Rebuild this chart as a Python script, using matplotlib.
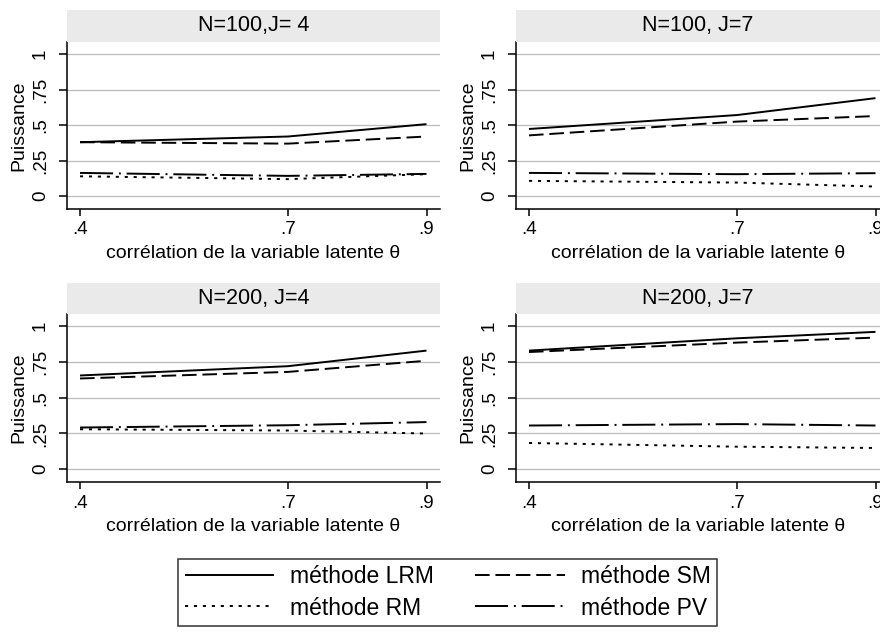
import matplotlib
matplotlib.use("Agg")
import matplotlib.pyplot as plt
from matplotlib.lines import Line2D

plt.rcParams['font.family'] = ['Liberation Sans', 'DejaVu Sans']

corr = [0.4, 0.7, 0.9]
xticklabels = ['.4', '.7', '.9']
yticks = [0, 0.25, 0.5, 0.75, 1]
yticklabels = ['0', '.25', '.5', '.75', '1']

titles = ['N=100,J= 4', 'N=100, J=7', 'N=200, J=4', 'N=200, J=7']

lrm = [[0.38, 0.42, 0.507], [0.473, 0.571, 0.69], [0.655, 0.72, 0.829], [0.829, 0.915, 0.96]]
sm = [[0.38, 0.37, 0.42], [0.428, 0.525, 0.564], [0.634, 0.68, 0.758], [0.819, 0.885, 0.92]]
rm = [[0.14, 0.12, 0.155], [0.108, 0.096, 0.068], [0.279, 0.27, 0.249], [0.183, 0.157, 0.148]]
pv = [[0.164, 0.143, 0.157], [0.164, 0.155, 0.162], [0.291, 0.307, 0.329], [0.305, 0.315, 0.305]]

series = [
    ('méthode LRM', lrm, (0, ())),
    ('méthode SM', sm, (0, (7.5, 3))),
    ('méthode RM', rm, (0, (1.6, 3.0))),
    ('méthode PV', pv, (0, (17, 3, 1, 3))),
]

W, H = 880, 632
fig = plt.figure(figsize=(W / 100, H / 100), dpi=100)

# pixel boxes: left, right, top, bottom of plot region, strip top
boxes = [(67, 440, 42, 209, 10), (516, 880, 42, 209, 10),
         (67, 440, 314, 482, 283), (516, 880, 314, 482, 283)]
px_per_unit = 693.0  # horizontal pixels per unit of correlation

for i, (l, r, t, b, st) in enumerate(boxes):
    ax = fig.add_axes([l / W, 1 - b / H, (r - l) / W, (b - t) / H])
    for name, vals, ls in series:
        ax.plot(corr, vals[i], color='black', lw=1.4, linestyle=ls)
    x0 = 0.4 - 13 / px_per_unit
    ax.set_xlim(x0, x0 + (r - l) / px_per_unit)
    ax.set_ylim(-0.09, 1.085)
    ax.set_xticks(corr)
    ax.set_xticklabels(xticklabels, fontsize=13.5)
    ax.set_yticks(yticks)
    ax.set_yticklabels(yticklabels, fontsize=13.5, rotation=90, va='center')
    ax.yaxis.grid(True, color='#bcbcbc', lw=0.9)
    ax.set_axisbelow(True)
    ax.spines['top'].set_visible(False)
    ax.spines['right'].set_visible(False)
    ax.spines['left'].set_linewidth(1.1)
    ax.spines['bottom'].set_linewidth(1.1)
    ax.tick_params(axis='x', length=5, width=1.1, pad=4)
    ax.tick_params(axis='y', length=6, width=1.1, pad=7)
    ax.set_xlabel('corrélation de la variable latente θ', fontsize=14, labelpad=5)
    ax.set_ylabel('Puissance', fontsize=14, labelpad=3)
    # strip title
    sax = fig.add_axes([l / W, 1 - t / H, (r - l) / W, (t - st) / H])
    sax.set_facecolor('#eaeaea')
    sax.set_xticks([])
    sax.set_yticks([])
    for s in sax.spines.values():
        s.set_visible(False)
    sax.text(0.5, 0.5, titles[i], ha='center', va='center', fontsize=15.5,
             transform=sax.transAxes)

handles = [Line2D([], [], color='black', lw=1.4, linestyle=ls) for _, _, ls in series]
labels = [name for name, _, _ in series]
order = [0, 2, 1, 3]
leg = fig.legend([handles[k] for k in order], [labels[k] for k in order], ncol=2,
                 loc='center', bbox_to_anchor=(447.5 / W, 1 - 592.5 / H), fontsize=16.5,
                 frameon=True, fancybox=False, edgecolor='black', handlelength=3.9,
                 handletextpad=0.7, columnspacing=1.8, borderpad=0.3,
                 labelspacing=0.35, borderaxespad=0)
leg.get_frame().set_linewidth(1.1)

fig.savefig('out.png', dpi=100)
